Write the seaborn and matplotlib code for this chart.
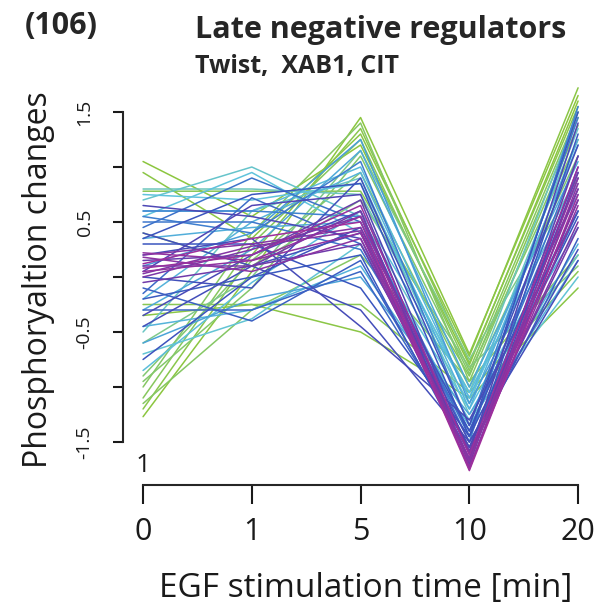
import numpy as np
import pandas as pd
import seaborn as sns
import matplotlib.pyplot as plt
from matplotlib.colors import LinearSegmentedColormap

# time points (shown as equally spaced categories)
time_labels = ["0", "1", "5", "10", "20"]

# cluster members, values at 0, 1, 5, 10, 20 min
green_lines = [
    [1.05, 0.55, 1.20, -0.80, 1.60],
    [0.95, 0.35, 1.30, -0.72, 1.72],
    [0.78, 0.78, 0.78, -0.90, 1.45],
    [-1.27, 0.05, 1.45, -0.70, 1.65],
    [-1.20, 0.20, 1.35, -0.78, 1.55],
    [-1.10, 0.30, 1.25, -0.85, 1.50],
    [-1.00, 0.40, 1.40, -0.95, 1.38],
    [-0.95, -0.10, 1.10, -0.88, 1.25],
    [-0.90, 0.15, 0.95, -1.00, 1.10],
    [-0.25, -0.25, -0.25, -1.05, 0.05],
    [-0.35, -0.25, -0.50, -1.10, -0.10],
    [-1.15, -0.30, 0.20, -0.95, 0.20],
    [0.40, 0.10, 0.70, -0.82, 0.10],
    [-0.60, 0.00, 1.15, -0.75, 0.90],
]
green_memb = [0.30, 0.31, 0.33, 0.30, 0.32, 0.34, 0.35, 0.36, 0.37, 0.33, 0.31, 0.35, 0.38, 0.40]

cyan_lines = [
    [0.80, 0.80, 0.75, -1.05, 1.50],
    [0.70, 1.00, 0.55, -1.15, 1.35],
    [0.55, 0.95, 0.40, -1.20, 0.60],
    [0.60, 0.60, 1.00, -1.10, 1.20],
    [-0.50, 0.60, 0.90, -1.25, 0.20],
    [-0.70, -0.38, 0.30, -1.30, 0.00],
    [-0.85, -0.05, 0.60, -1.05, 0.85],
    [-0.45, -0.30, 0.10, -1.35, 0.30],
    [-0.30, 0.25, 1.15, -1.00, 1.05],
    [0.35, 0.45, 0.50, -1.40, 0.15],
    [-0.60, -0.20, 0.00, -1.25, 0.45],
    [0.10, 0.40, 1.25, -1.15, 0.75],
    [0.75, 0.70, 0.85, -1.10, 0.95],
    [-0.20, 0.50, 0.95, -1.20, 1.25],
]
cyan_memb = [0.46, 0.48, 0.50, 0.52, 0.47, 0.49, 0.51, 0.53, 0.55, 0.54, 0.56, 0.57,
             0.50, 0.53]

blue_lines = [
    [0.60, 0.60, 0.55, -1.50, 1.55],
    [0.55, 0.40, 1.05, -1.35, 1.45],
    [0.45, 0.90, 0.50, -1.45, 1.10],
    [-0.15, 0.72, 0.30, -1.55, 0.90],
    [-0.10, -0.40, 0.15, -1.60, 0.35],
    [-0.20, 0.00, 0.20, -1.65, 1.30],
    [0.30, 0.30, -0.10, -1.45, 0.55],
    [-0.75, 0.00, 0.45, -1.40, 0.80],
    [0.00, -0.10, 0.90, -1.35, 1.20],
    [0.40, 0.10, -0.30, -1.50, 0.25],
    [0.20, 0.35, -0.45, -1.30, 0.60],
    [-0.35, 0.20, 0.60, -1.70, 1.00],
    [0.65, 0.55, 0.35, -1.55, 0.70],
    [0.05, 0.65, 0.75, -1.60, 1.40],
    [0.50, 0.50, 0.25, -1.40, 0.95],
    [-0.30, -0.30, 0.05, -1.55, 0.60],
    [0.35, 0.75, 0.85, -1.45, 1.50],
    [-0.45, 0.10, 0.40, -1.50, 0.15],
]
blue_memb = [0.62, 0.63, 0.65, 0.66, 0.68, 0.69, 0.70, 0.71, 0.72, 0.73, 0.74, 0.75,
             0.76, 0.77, 0.64, 0.67, 0.70, 0.73]

purple_lines = [
    [0.15, 0.20, 0.70, -1.70, 1.10],
    [0.10, 0.10, 0.60, -1.75, 0.95],
    [0.20, 0.30, 0.45, -1.65, 0.80],
    [0.05, 0.15, 0.40, -1.72, 0.65],
    [0.00, 0.25, 0.55, -1.60, 0.50],
    [0.18, 0.05, 0.35, -1.68, 0.90],
    [0.12, 0.35, 0.50, -1.76, 0.75],
    [0.08, 0.20, 0.65, -1.62, 1.00],
    [-0.05, 0.10, 0.30, -1.58, 0.45],
    [0.22, 0.15, 0.55, -1.74, 0.85],
    [0.03, 0.28, 0.42, -1.66, 0.70],
]
purple_memb = [0.82, 0.84, 0.86, 0.88, 0.85, 0.87, 0.90, 0.89, 0.83, 0.88, 0.86]

rows = []
uid = 0
for lines, memb in [(green_lines, green_memb), (cyan_lines, cyan_memb),
                    (blue_lines, blue_memb), (purple_lines, purple_memb)]:
    for vals, m in zip(lines, memb):
        for i, v in enumerate(vals):
            rows.append({"id": uid, "t": i, "value": v, "memb": m})
        uid += 1
df = pd.DataFrame(rows)

cmap = LinearSegmentedColormap.from_list(
    "memb", ["#8cc63f", "#7fc98a", "#5fc3dc", "#3f8fd6", "#3a55be", "#5a3fb0", "#9e2f9c"])

sns.set_style("ticks")
plt.rcParams['font.family'] = ['Open Sans', 'DejaVu Sans']

fig = plt.figure(figsize=(6.05, 6.07), dpi=100)
ax = fig.add_axes([0.2041, 0.2010, 0.7694, 0.6672])

sns.lineplot(data=df, x="t", y="value", hue="memb", units="id", estimator=None,
             palette=cmap, hue_norm=(0.3, 0.9), legend=False, lw=1.1, ax=ax)

txt = "#1a1a1a"
ax.set_xlim(-0.18, 4.1)
ax.set_ylim(-1.891, 1.791)
ax.set_xticks(range(5))
ax.set_xticklabels(time_labels, fontsize=22)
yt = [-1.5, -1.0, -0.5, 0.0, 0.5, 1.0, 1.5]
ax.set_yticks(yt)
ax.set_yticklabels(["-1.5", "", "-0.5", "", "0.5", "", "1.5"], fontsize=14,
                   rotation=90, va="center")
ax.set_xlabel("")
ax.set_ylabel("")
for s in ["top", "right"]:
    ax.spines[s].set_visible(False)
ax.spines["left"].set_bounds(-1.5, 1.5)
ax.spines["bottom"].set_bounds(0, 4)
ax.spines["left"].set_linewidth(1.5)
ax.spines["bottom"].set_linewidth(1.5)
ax.tick_params(axis="y", length=7, width=1.5, pad=14.5, colors=txt)
ax.tick_params(axis="x", length=14, width=1.5, pad=9, colors=txt)

ax.text(0.0, -1.77, "1", fontsize=19, ha="center", va="baseline", color=txt)

fig.text(25 / 605, 1 - 34 / 607, "(106)", fontsize=22, fontweight="bold", va="baseline")
fig.text(195 / 605, 1 - 38 / 607, "Late negative regulators", fontsize=22,
         fontweight="bold", va="baseline")
fig.text(195 / 605, 1 - 73 / 607, "Twist,  XAB1, CIT", fontsize=18, fontweight="bold",
         va="baseline")
fig.text(39 / 605, 1 - 280 / 607, "Phosphoryaltion changes", fontsize=23, rotation=90,
         ha="center", va="center", color=txt)
fig.text(366 / 605, 1 - 597 / 607, "EGF stimulation time [min]", fontsize=24,
         ha="center", va="baseline", color=txt)

fig.savefig("out.png", dpi=100)
